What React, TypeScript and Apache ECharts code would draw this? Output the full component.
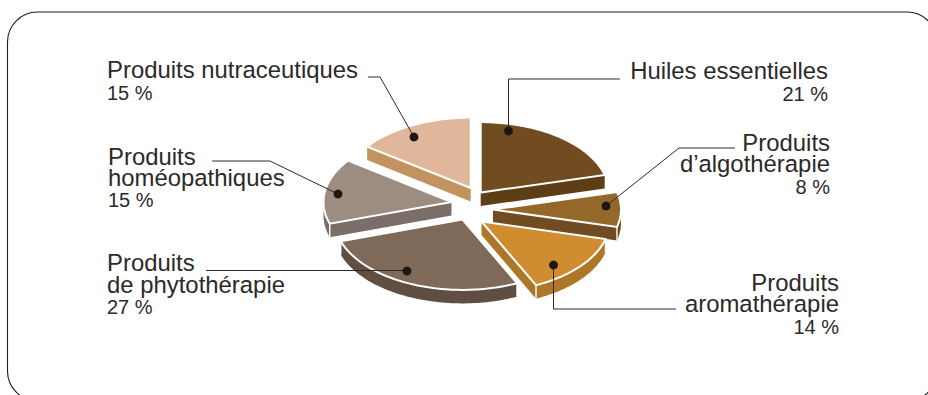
import React, { useEffect, useRef } from "react";
import * as echarts from "echarts";

const categories = [
  "Huiles essentielles",
  "Produits d’algothérapie",
  "Produits aromathérapie",
  "Produits de phytothérapie",
  "Produits homéopathiques",
  "Produits nutraceutiques",
];
const shares = [21, 8, 14, 27, 15, 15];
const topColors = ["#714c20", "#946829", "#cf8d2f", "#7f6959", "#9d8c80", "#e0b79a"];
const sideColors = ["#5e3e14", "#714c20", "#ad7728", "#5f4e41", "#7b6e68", "#c2935f"];

// Apex of each detached wedge on the page.
const apexes = [
  [480.7, 192.5],
  [493, 209.5],
  [481.5, 221.5],
  [462.5, 219.5],
  [451.5, 202],
  [470.7, 188],
];
const RADIUS = 128;
const SQUASH = 0.55;
const DEPTH = 13.5;

type Pt = [number, number];

function wedgeOutline(apex: number[], from: number, to: number): Pt[] {
  const pts: Pt[] = [[apex[0], apex[1]]];
  const steps = Math.max(8, Math.ceil((to - from) * 40));
  for (let i = 0; i <= steps; i++) {
    const a = from + ((to - from) * i) / steps;
    pts.push([apex[0] + RADIUS * Math.sin(a), apex[1] - RADIUS * SQUASH * Math.cos(a)]);
  }
  return pts;
}

function hull(points: Pt[]): Pt[] {
  const p = [...points].sort((a, b) => a[0] - b[0] || a[1] - b[1]);
  const cross = (o: Pt, a: Pt, b: Pt) => (a[0] - o[0]) * (b[1] - o[1]) - (a[1] - o[1]) * (b[0] - o[0]);
  const lower: Pt[] = [];
  for (const q of p) {
    while (lower.length >= 2 && cross(lower[lower.length - 2], lower[lower.length - 1], q) <= 0) lower.pop();
    lower.push(q);
  }
  const upper: Pt[] = [];
  for (let i = p.length - 1; i >= 0; i--) {
    const q = p[i];
    while (upper.length >= 2 && cross(upper[upper.length - 2], upper[upper.length - 1], q) <= 0) upper.pop();
    upper.push(q);
  }
  return lower.slice(0, -1).concat(upper.slice(0, -1));
}

const total = shares.reduce((s, v) => s + v, 0);

function renderWedge(params: any, api: any) {
  const i = params.dataIndex;
  const before = shares.slice(0, i).reduce((s, v) => s + v, 0);
  const from = (before / total) * Math.PI * 2;
  const to = from + (api.value(0) / total) * Math.PI * 2;
  const top = wedgeOutline(apexes[i], from, to);
  const extruded = top.map(([x, y]): Pt => [x, y + DEPTH]);
  const children: any[] = [
    { type: "polygon", shape: { points: hull(top.concat(extruded)) }, style: { fill: sideColors[i] } },
  ];
  // A thin light seam where a cut face meets the curved rim.
  const last = top[top.length - 1];
  const first = top[1];
  for (const c of [first, last]) {
    if (c[1] > apexes[i][1]) {
      children.push({
        type: "line",
        shape: { x1: c[0], y1: c[1], x2: c[0], y2: c[1] + DEPTH },
        style: { stroke: "#ffffff", lineWidth: 1.4 },
      });
    }
  }
  children.push({
    type: "polygon",
    shape: { points: top },
    style: { fill: topColors[i], stroke: "#ffffff", lineWidth: 2, lineJoin: "miter" },
  });
  return { type: "group", children };
}

const FONT = '"Liberation Sans", Arial, sans-serif';
const INK = "#2b2a29";
const NAME = 23.9;
const PCT = 20;

// Name block: several tightly set lines, placed by the baseline of the last one.
function nameBlock(lines: string[], x: number, lastBaseline: number, leading: number, align: string) {
  const centre = lastBaseline - NAME * 0.35 - ((lines.length - 1) * leading) / 2;
  return {
    type: "text",
    x,
    y: centre,
    z: 12,
    style: {
      text: lines.join("\n"),
      x: 0,
      y: 0,
      fill: INK,
      font: `${NAME}px ${FONT}`,
      lineHeight: leading,
      textAlign: align,
      textVerticalAlign: "middle",
    },
  };
}

function pct(value: number, x: number, baseline: number, align: string) {
  return {
    type: "text",
    x,
    y: baseline - PCT * 0.35,
    z: 12,
    style: {
      text: `${value} %`,
      x: 0,
      y: 0,
      fill: INK,
      font: `${PCT}px ${FONT}`,
      lineHeight: 15,
      textAlign: align,
      textVerticalAlign: "middle",
    },
  };
}

function leader(points: number[][], dot: number[]) {
  return [
    {
      type: "polyline",
      z: 10,
      shape: { points },
      style: { stroke: "#2b2a29", lineWidth: 1, fill: "none" },
    },
    {
      type: "circle",
      z: 11,
      shape: { cx: dot[0], cy: dot[1], r: 4.4 },
      style: { fill: "#1c1715" },
    },
  ];
}

export default function App() {
  const ref = useRef<HTMLDivElement>(null);
  useEffect(() => {
    const chart = echarts.init(ref.current!, null, { renderer: "svg" });
    chart.setOption({
      animation: false,
      backgroundColor: "#ffffff",
      series: [
        {
          type: "custom",
          coordinateSystem: "none",
          renderItem: renderWedge,
          data: categories.map((name, i) => ({ name, value: [shares[i]] })),
        },
      ],
      graphic: [
        {
          type: "rect",
          z: 1,
          shape: { x: 7.5, y: 12, width: 929.5, height: 389, r: 30 },
          style: { fill: "none", stroke: "#1f1f1f", lineWidth: 1.1 },
        },
        ...leader([[368, 77], [380, 77], [414, 137]], [414, 137]),
        ...leader([[620, 79], [508.5, 79], [508.5, 131]], [508.5, 131]),
        ...leader([[735, 148], [679, 148], [606, 206]], [606, 206]),
        ...leader([[676, 309], [553.5, 309], [553.5, 265]], [553.5, 265]),
        ...leader([[206, 270.5], [407, 270.5]], [407, 271]),
        ...leader([[212, 161], [270, 161], [338, 194]], [338, 194]),
        nameBlock(["Produits nutraceutiques"], 107, 78.2, 21, "left"),
        pct(shares[5], 107, 100, "left"),
        nameBlock(["Produits", "homéopathiques"], 108, 185.5, 21, "left"),
        pct(shares[4], 108, 207, "left"),
        nameBlock(["Produits", "de phytothérapie"], 107, 292.5, 22, "left"),
        pct(shares[3], 107, 313.7, "left"),
        nameBlock(["Huiles essentielles"], 828, 79.2, 21, "right"),
        pct(shares[0], 828, 101, "right"),
        nameBlock(["Produits", "d’algothérapie"], 830, 172, 21, "right"),
        pct(shares[1], 830, 194, "right"),
        nameBlock(["Produits", "aromathérapie"], 839, 311.8, 20.5, "right"),
        pct(shares[2], 839, 333.7, "right"),
      ],
    });
    return () => chart.dispose();
  }, []);
  return <div ref={ref} style={{ position: "fixed", left: 0, top: 0, width: 928, height: 395 }} />;
}
